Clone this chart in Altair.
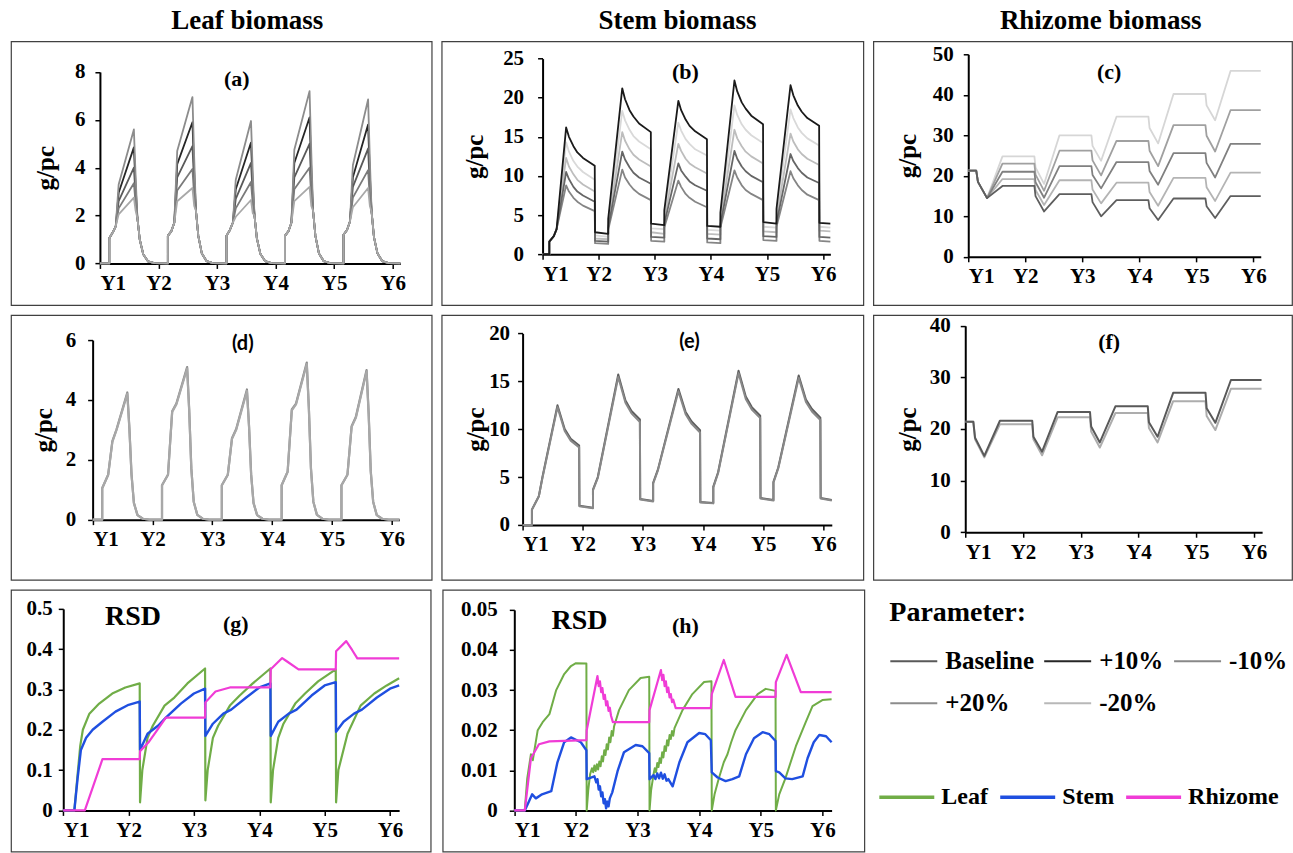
import altair as alt
import pandas as pd

SERIF = "Liberation Serif, Times New Roman, Tinos, DejaVu Serif, serif"
SANS = "Lato, Carlito, Liberation Sans, sans-serif"
YEARS = ["Y1", "Y2", "Y3", "Y4", "Y5", "Y6"]
YEAR_EXPR = "[" + ",".join("'%s'" % y for y in YEARS) + "][round(datum.value)]"
PARAMS = ["Baseline", "+10%", "-10%", "+20%", "-20%"]
PARAM_COLORS = ["#595959", "#262626", "#888888", "#8C8C8C", "#B8B8B8"]
ORGANS = ["Leaf", "Stem", "Rhizome"]
ORGAN_COLORS = ["#70AD47", "#1F4FE0", "#F03CD6"]

# ---------------- (a) leaf biomass, 5 parameter levels ----------------
A_OFF = [0.16, 0.16, 0.22, 0.27, 0.32, 0.58, 0.61, 0.64, 0.68, 0.74, 0.82, 0.93]
A_RISE = [1.05, 1.15, 1.15, 1.15, 1.2]
A_PRE1 = [1.3, 1.35, 1.4, 1.35, 1.4]
A_PRE2 = [1.55, 1.7, 1.7, 1.7, 1.75]
A_DEC = [[1.9, 1.0, 0.38, 0.09, 0.01], [2.2, 1.15, 0.42, 0.1, 0.01], [2.0, 1.05, 0.4, 0.1, 0.01],
         [2.2, 1.15, 0.42, 0.1, 0.01], [2.15, 1.1, 0.42, 0.1, 0.01]]
A_KINK = {"-10%": [3.3, 4.7, 3.5, 4.75, 4.1], "+10%": [2.95, 4.15, 3.1, 4.2, 3.6],
          "Baseline": [2.6, 3.6, 2.7, 3.6, 3.2], "+20%": [2.3, 3.05, 2.3, 3.1, 2.75],
          "-20%": [2.05, 2.6, 1.95, 2.6, 2.35]}
A_PEAK = {"-10%": [5.6, 6.95, 5.95, 7.2, 6.85], "+10%": [4.85, 5.9, 5.05, 6.1, 5.8],
          "Baseline": [4.0, 4.9, 4.2, 5.0, 4.8], "+20%": [3.35, 3.95, 3.4, 4.0, 3.9],
          "-20%": [2.75, 3.15, 2.65, 3.2, 3.15]}
A_D1 = {"-10%": [3.6, 4.4, 3.8, 4.6, 4.3], "+10%": [3.2, 3.8, 3.3, 3.9, 3.7],
        "Baseline": [2.8, 3.3, 2.9, 3.3, 3.2], "+20%": [2.5, 2.8, 2.5, 2.8, 2.7],
        "-20%": [2.2, 2.4, 2.1, 2.4, 2.4]}
A_COLORS = {"+10%": "#262626", "Baseline": "#595959", "-10%": "#8C8C8C", "+20%": "#7A7A7A", "-20%": "#A8A8A8"}

# ---------------- (b) stem biomass ----------------
B_START = [0.0, 0.0, 1.6, 2.3, 3.2]
B = {
    "-20%": dict(P=[14.3, 18.3, 16.8, 19.0, 18.5], Q1=[13.1, 17.1, 15.8, 17.8, 17.4], M1=[11.9, 15.9, 14.7, 16.6, 16.2],
                 Q2=[11.2, 15.1, 14.1, 15.9, 15.5], M2=[10.5, 14.4, 13.4, 15.2, 14.8],
                 E=[9.5, 13.4, 12.6, 14.2, 13.9], LS=[2.4, 3.3, 3.1, 3.5, 3.5], LE=[2.2, 3.2, 3.0, 3.4, 3.4], ST=[4.1, 5.0, 4.8, 5.2]),
    "+20%": dict(P=[12.3, 15.6, 14.1, 15.9, 15.4], Q1=[11.2, 14.5, 13.2, 14.8, 14.4], M1=[10.2, 13.4, 12.2, 13.8, 13.4],
                 Q2=[9.5, 12.7, 11.6, 13.1, 12.8], M2=[8.9, 12.1, 11.1, 12.5, 12.2],
                 E=[8.0, 11.2, 10.3, 11.6, 11.4], LS=[2.0, 2.8, 2.6, 2.9, 3.0], LE=[1.9, 2.6, 2.5, 2.8, 2.9], ST=[3.7, 4.4, 4.3, 4.6]),
    "-10%": dict(P=[8.8, 10.8, 9.4, 10.7, 10.6], Q1=[8.0, 9.8, 8.6, 9.8, 9.7], M1=[7.2, 8.9, 7.7, 8.8, 8.8],
                 Q2=[6.7, 8.3, 7.2, 8.2, 8.2], M2=[6.2, 7.7, 6.7, 7.7, 7.6],
                 E=[5.5, 6.9, 6.0, 6.9, 6.9], LS=[1.4, 1.7, 1.5, 1.8, 1.7], LE=[1.3, 1.6, 1.4, 1.7, 1.6], ST=[3.1, 3.4, 3.4, 3.5]),
    "Baseline": dict(P=[10.5, 13.1, 11.6, 13.2, 12.8], Q1=[9.6, 12.1, 10.7, 12.2, 11.9], M1=[8.6, 11.1, 9.9, 11.2, 11.0],
                     Q2=[8.0, 10.4, 9.3, 10.6, 10.4], M2=[7.5, 9.8, 8.8, 10.0, 9.8],
                     E=[6.7, 9.0, 8.1, 9.2, 9.1], LS=[1.7, 2.2, 2.0, 2.3, 2.2], LE=[1.6, 2.1, 1.9, 2.2, 2.1], ST=[3.4, 3.9, 3.8, 4.0]),
    "+10%": dict(P=[16.2, 21.2, 19.6, 22.2, 21.6], Q1=[15.0, 19.8, 18.4, 20.8, 20.3], M1=[13.8, 18.4, 17.2, 19.4, 19.0],
                 Q2=[13.0, 17.6, 16.4, 18.6, 18.2], M2=[12.3, 16.7, 15.7, 17.7, 17.4],
                 E=[11.3, 15.6, 14.7, 16.6, 16.4], LS=[2.8, 3.9, 3.6, 4.1, 4.0], LE=[2.6, 3.7, 3.5, 3.9, 3.9], ST=[4.5, 5.6, 5.3, 5.8]),
}
B_COLORS = {"-20%": "#D9D9D9", "+20%": "#BDBDBD", "-10%": "#858585", "Baseline": "#666666", "+10%": "#1A1A1A"}

# ---------------- (c) rhizome biomass ----------------
C_START = [21.3, 21.3, 18.5, 14.5]
C = {
    "-20%": dict(P=[24.8, 30.0, 34.6, 40.2, 45.9], D=[22.1, 27.4, 31.8, 37.4], MN=[18.0, 23.7, 28.0, 33.7]),
    "-10%": dict(P=[23.0, 26.2, 28.6, 32.5, 36.2], D=[20.3, 23.8, 26.2, 29.9], MN=[16.3, 20.1, 22.4, 26.0]),
    "+10%": dict(P=[19.2, 18.9, 18.3, 19.5, 20.8], D=[16.5, 16.6, 16.0, 17.2], MN=[12.8, 13.2, 12.6, 13.8]),
    "Baseline": dict(P=[21.0, 22.4, 23.4, 25.6, 27.9], D=[18.4, 20.2, 21.2, 23.2], MN=[14.6, 16.9, 17.8, 19.6]),
    "+20%": dict(P=[17.5, 15.5, 14.0, 14.4, 15.0], D=[15.0, 13.5, 12.0, 12.5], MN=[11.2, 10.0, 9.1, 9.6]),
}
C_COLORS = {"-20%": "#D6D6D6", "-10%": "#A0A0A0", "+10%": "#B4B4B4", "Baseline": "#808080", "+20%": "#5E5E5E"}

# ---------------- (d) leaf biomass, second parameter ----------------
D_OFF = [0.16, 0.16, 0.26, 0.33, 0.40, 0.58, 0.615, 0.65, 0.69, 0.75, 0.84, 0.95]
D_CYC = {
    "+10%": [[0, 1.05, 1.5, 2.62, 3.02, 4.25, 3.05, 1.52, 0.56, 0.15, 0.03, 0],
             [0, 1.15, 1.5, 3.62, 3.88, 5.1, 3.65, 1.72, 0.6, 0.16, 0.03, 0],
             [0, 1.15, 1.5, 2.72, 3.03, 4.35, 3.12, 1.52, 0.56, 0.15, 0.03, 0],
             [0, 1.15, 1.6, 3.68, 3.88, 5.25, 3.75, 1.72, 0.6, 0.16, 0.03, 0],
             [0, 1.15, 1.5, 3.12, 3.43, 5.0, 3.55, 1.62, 0.6, 0.15, 0.03, 0]],
    "Baseline": [[0, 1.05, 1.5, 2.6, 3.0, 4.2, 3.0, 1.5, 0.55, 0.15, 0.03, 0],
                 [0, 1.15, 1.5, 3.6, 3.85, 5.05, 3.6, 1.7, 0.6, 0.16, 0.03, 0],
                 [0, 1.15, 1.5, 2.7, 3.0, 4.3, 3.1, 1.5, 0.55, 0.15, 0.03, 0],
                 [0, 1.15, 1.6, 3.65, 3.85, 5.2, 3.7, 1.7, 0.6, 0.16, 0.03, 0],
                 [0, 1.15, 1.5, 3.1, 3.4, 4.95, 3.5, 1.6, 0.6, 0.15, 0.03, 0]],
}
D_COLORS = {"+10%": "#8A8A8A", "Baseline": "#A8A8A8"}

# ---------------- (e) stem biomass, second parameter ----------------
E_FIRST_T = [0, 0.155, 0.155, 0.27, 0.33, 0.58, 0.7, 0.8, 0.94, 0.945]
E_OFF = [0.17, 0.17, 0.25, 0.59, 0.71, 0.81, 0.95, 0.955]
E = {
    "Baseline": dict(first=[0, 0, 1.6, 3.0, 5.0, 12.5, 10.0, 9.0, 8.3, 2.0],
                     cyc=[[1.8, 3.7, 5.0, 15.7, 13.0, 11.9, 11.0, 2.7], [2.5, 4.4, 5.8, 14.2, 11.8, 10.8, 9.9, 2.4],
                          [2.3, 4.0, 5.5, 16.1, 13.4, 12.3, 11.4, 2.8], [2.6, 4.5, 6.0, 15.6, 13.1, 12.1, 11.2, 2.8]],
                     last=2.6),
    "-10%": dict(first=[0, 0, 1.6, 3.0, 4.9, 12.3, 9.8, 8.8, 8.1, 1.95],
                 cyc=[[1.75, 3.6, 4.9, 15.45, 12.75, 11.65, 10.75, 2.65], [2.45, 4.3, 5.7, 13.95, 11.55, 10.55, 9.65, 2.35],
                      [2.25, 3.9, 5.4, 15.85, 13.15, 12.05, 11.15, 2.75], [2.55, 4.4, 5.9, 15.35, 12.85, 11.85, 10.95, 2.75]],
                 last=2.55),
}
E_COLORS = {"Baseline": "#5E5E5E", "-10%": "#888888"}

# ---------------- (f) rhizome biomass, second parameter ----------------
F = {
    "-10%": dict(S=[21.4, 21.4, 18.0, 14.5], P=[20.9, 22.3, 23.1, 25.4, 27.8], D=[18.0, 19.5, 20.2, 22.5], MN=[14.9, 16.4, 17.4, 19.8]),
    "Baseline": dict(S=[21.4, 21.4, 18.3, 14.8], P=[21.6, 23.3, 24.4, 27.0, 29.5], D=[18.5, 20.5, 21.3, 24.0], MN=[15.6, 17.4, 18.5, 21.2]),
}
F_COLORS = {"-10%": "#ADADAD", "Baseline": "#595959"}

# ---------------- (g) RSD ----------------
GL_T = [0, 0.17, 0.22, 0.26, 0.3, 0.4, 0.55, 0.75, 0.95, 1.17,
        1.175, 1.21, 1.29, 1.37, 1.55, 1.7, 1.9, 2.17,
        2.175, 2.21, 2.29, 2.37, 2.55, 2.7, 2.9, 3.17,
        3.175, 3.21, 3.29, 3.37, 3.55, 3.7, 3.9, 4.17,
        4.175, 4.21, 4.35, 4.55, 4.76, 4.95, 5.14]
GL_V = [0, 0, 0.09, 0.16, 0.2, 0.24, 0.265, 0.29, 0.305, 0.315,
        0.02, 0.1, 0.18, 0.21, 0.26, 0.28, 0.315, 0.352,
        0.025, 0.1, 0.18, 0.21, 0.26, 0.285, 0.315, 0.352,
        0.02, 0.1, 0.18, 0.215, 0.265, 0.29, 0.32, 0.35,
        0.02, 0.1, 0.19, 0.26, 0.29, 0.31, 0.328]
GS_T = [0, 0.17, 0.22, 0.27, 0.35, 0.45, 0.6, 0.8, 1.0, 1.17,
        1.175, 1.29, 1.45, 1.57, 1.8, 2.0, 2.17,
        2.175, 2.29, 2.45, 2.57, 2.8, 3.0, 3.17,
        3.175, 3.29, 3.45, 3.57, 3.8, 4.0, 4.17,
        4.175, 4.29, 4.45, 4.57, 4.8, 5.0, 5.14]
GS_V = [0, 0, 0.08, 0.15, 0.18, 0.2, 0.22, 0.245, 0.262, 0.27,
        0.15, 0.19, 0.21, 0.23, 0.265, 0.29, 0.302,
        0.185, 0.215, 0.24, 0.25, 0.28, 0.305, 0.315,
        0.185, 0.22, 0.24, 0.25, 0.285, 0.31, 0.318,
        0.195, 0.22, 0.24, 0.25, 0.28, 0.302, 0.31]
GR_T = [0, 0.33, 0.6, 1.17, 1.175, 1.31, 1.44, 1.57, 2.17, 2.175, 2.33, 2.55, 3.17, 3.175, 3.35,
        3.42, 3.6, 4.17, 4.175, 4.33, 4.42, 4.5, 5.14]
GR_V = [0, 0, 0.127, 0.127, 0.147, 0.17, 0.2, 0.23, 0.23, 0.268, 0.295, 0.305, 0.305, 0.35, 0.378,
        0.37, 0.35, 0.35, 0.395, 0.42, 0.398, 0.377, 0.377]

# ---------------- (h) RSD ----------------
HL_T = [0, 0.17, 0.21, 0.27, 0.3, 0.38, 0.46, 0.57, 0.68, 0.81, 0.92, 1.0, 1.17,
        1.175, 1.2, 1.23, 1.26, 1.28, 1.3, 1.32, 1.34, 1.36, 1.38, 1.4, 1.42, 1.44, 1.46, 1.48, 1.5, 1.52,
        1.54, 1.56, 1.58, 1.6, 1.62, 1.7, 1.86, 2.05, 2.19,
        2.195, 2.22, 2.26, 2.28, 2.3, 2.32, 2.34, 2.36, 2.38, 2.4, 2.42, 2.44, 2.46, 2.48, 2.5, 2.52, 2.54,
        2.56, 2.58, 2.6, 2.73, 2.89, 3.08, 3.2,
        3.205, 3.25, 3.32, 3.4, 3.46, 3.52, 3.59, 3.76, 3.95, 4.08, 4.24,
        4.245, 4.3, 4.4, 4.57, 4.73, 4.84, 5.0, 5.15]
HL_V = [0, 0, 0.008, 0.014, 0.0125, 0.02, 0.022, 0.024, 0.03, 0.034, 0.036, 0.0367, 0.0366,
        0, 0.005, 0.009, 0.0105, 0.0095, 0.0112, 0.0098, 0.0115, 0.0102, 0.0122, 0.011, 0.0135, 0.0122,
        0.015, 0.0138, 0.0165, 0.0152, 0.0182, 0.017, 0.0198, 0.0186, 0.021, 0.025, 0.03, 0.033, 0.0333,
        0, 0.005, 0.009, 0.0105, 0.0095, 0.0118, 0.0108, 0.013, 0.0118, 0.0145, 0.0132, 0.016, 0.0148,
        0.0175, 0.0162, 0.0188, 0.0178, 0.0198, 0.0186, 0.0205, 0.025, 0.029, 0.032, 0.0322,
        0, 0.004, 0.008, 0.012, 0.014, 0.017, 0.02, 0.025, 0.029, 0.0303, 0.0298,
        0, 0.004, 0.008, 0.016, 0.022, 0.026, 0.0275, 0.0277]
HS_T = [0, 0.17, 0.23, 0.29, 0.35, 0.45, 0.6, 0.7, 0.81, 0.92, 1.08, 1.17,
        1.175, 1.3, 1.33, 1.35, 1.37, 1.39, 1.41, 1.43, 1.45, 1.47, 1.49, 1.51, 1.53, 1.55, 1.59, 1.68,
        1.78, 1.97, 2.08, 2.19,
        2.195, 2.26, 2.29, 2.32, 2.35, 2.38, 2.41, 2.44, 2.47, 2.5, 2.57, 2.68, 2.81, 3.0, 3.1, 3.19,
        3.205, 3.3, 3.43, 3.54, 3.65, 3.76, 3.89, 4.03, 4.14, 4.24,
        4.245, 4.3, 4.4, 4.51, 4.68, 4.76, 4.86, 4.95, 5.06, 5.15]
HS_V = [0, 0, 0.002, 0.004, 0.003, 0.004, 0.0048, 0.012, 0.017, 0.0182, 0.017, 0.015,
        0.0078, 0.0085, 0.007, 0.0078, 0.0052, 0.006, 0.0035, 0.0045, 0.0018, 0.0028, 0.0005, 0.0022,
        0.001, 0.003, 0.0045, 0.01, 0.0145, 0.0163, 0.016, 0.0143,
        0.0078, 0.0088, 0.0078, 0.0092, 0.008, 0.0094, 0.0079, 0.009, 0.0074, 0.0078, 0.006, 0.012,
        0.017, 0.0193, 0.019, 0.0175,
        0.0095, 0.0082, 0.0073, 0.0078, 0.0085, 0.014, 0.018, 0.0195, 0.019, 0.0173,
        0.0098, 0.0095, 0.008, 0.0078, 0.0085, 0.013, 0.017, 0.0188, 0.0185, 0.017]
HR_T = [0, 0.17, 0.27, 0.4, 0.57, 1.17,
        1.175, 1.35, 1.37, 1.39, 1.41, 1.43, 1.45, 1.47, 1.49, 1.51, 1.53, 1.55, 1.57, 1.6, 2.19,
        2.195, 2.38, 2.4, 2.42, 2.44, 2.46, 2.48, 2.5, 2.52, 2.54, 2.56, 2.58, 2.62, 3.19,
        3.205, 3.4, 3.59, 4.24,
        4.245, 4.42, 4.65, 5.15]
HR_V = [0, 0, 0.013, 0.0165, 0.0172, 0.0175,
        0.02, 0.0335, 0.031, 0.0322, 0.0295, 0.0305, 0.0278, 0.0288, 0.0262, 0.0272, 0.0248, 0.0256,
        0.0236, 0.022, 0.022,
        0.025, 0.035, 0.0325, 0.0338, 0.031, 0.0322, 0.0295, 0.0306, 0.0282, 0.029, 0.027, 0.0276,
        0.0255, 0.0255,
        0.029, 0.0375, 0.0283, 0.0283,
        0.032, 0.0388, 0.0295, 0.0295]


# ---------------- table builders ----------------
def frame(ts, vs):
    assert len(ts) == len(vs), (len(ts), len(vs))
    return pd.DataFrame({"t": ts, "v": vs, "i": list(range(len(ts)))})


def build_a(s):
    ts, vs = [0.0], [0.0]
    for k in range(5):
        ts += [k + o for o in A_OFF]
        vs += [0.0, A_RISE[k], A_PRE1[k], A_PRE2[k], A_KINK[s][k], A_PEAK[s][k], A_D1[s][k]] + A_DEC[k]
    return frame(ts + [5.13], vs + [0.0])


B_DECAY_OFF = [0.42, 0.47, 0.55, 0.62, 0.72, 0.93, 0.935]


def build_b(s):
    d = B[s]
    ts = [0, 0.12, 0.12, 0.2, 0.25] + B_DECAY_OFF
    vs = B_START[:]
    for k in range(5):
        if k > 0:
            ts += [k + 0.17, k + 0.17] + [k + o for o in B_DECAY_OFF]
            vs += [d["LE"][k - 1], d["ST"][k - 1]]
        vs += [d["P"][k], d["Q1"][k], d["M1"][k], d["Q2"][k], d["M2"][k], d["E"][k], d["LS"][k]]
    return frame(ts + [5.13], vs + [d["LE"][4]])


def build_c(start, d):
    ts = [0, 0.14, 0.17, 0.33, 0.6]
    vs = list(start) + [d["P"][0]]
    for k in range(1, 5):
        ts += [k + o for o in [0.16, 0.18, 0.33, 0.6]]
        vs += [d["P"][k - 1], d["D"][k - 1], d["MN"][k - 1], d["P"][k]]
    return frame(ts + [5.13], vs + [d["P"][4]])


def build_d(s):
    ts, vs = [0.0], [0.0]
    for k in range(5):
        ts += [k + o for o in D_OFF]
        vs += D_CYC[s][k]
    return frame(ts + [5.13], vs + [0.0])


def build_e(s):
    d = E[s]
    ts, vs = list(E_FIRST_T), list(d["first"])
    for k in range(1, 5):
        ts += [k + o for o in E_OFF]
        vs += d["cyc"][k - 1]
    return frame(ts + [5.14], vs + [d["last"]])


# ---------------- panel builder ----------------
def panel(lines, W, H, x0, x5, xend, y0, ytop, ymax, yvals, lp, texts, ytitle=None, title_x=0, header=None, hdx=0):
    ppy = (x5 - x0) / 5.0
    x_enc = alt.X("t:Q", scale=alt.Scale(domain=[0, xend], range=[x0, x0 + ppy * xend], nice=False, zero=False),
                  axis=alt.Axis(values=[0, 1, 2, 3, 4, 5], labelExpr=YEAR_EXPR, offset=y0 - H, title=None,
                                labelPadding=4))
    if ytitle:
        y_axis = alt.Axis(values=yvals, format="~f", offset=-x0, labelPadding=lp, title=ytitle,
                          titleX=title_x, titleY=(y0 + ytop) / 2, titleAngle=270, titleAlign="center",
                          titleBaseline="middle")
    else:
        y_axis = alt.Axis(values=yvals, format="~f", offset=-x0, labelPadding=lp, title=None)
    y_enc = alt.Y("v:Q", scale=alt.Scale(domain=[0, ymax], range=[y0, ytop], nice=False), axis=y_axis)
    layers = []
    for df, color, w in lines:
        layers.append(alt.Chart(df).mark_line(color=color, strokeWidth=w, strokeJoin="round").encode(
            x=x_enc, y=y_enc, order=alt.Order("i:Q")))
    for txt, px, py, font, size in texts:
        layers.append(alt.Chart(pd.DataFrame({"s": [txt]})).mark_text(
            font=font, fontSize=size, fontWeight="bold", color="black", align="center", baseline="middle").encode(
            text="s:N", x=alt.value(px), y=alt.value(py)))
    ch = alt.layer(*layers).properties(width=W, height=H)
    if header:
        ch = ch.properties(title=alt.TitleParams(header, font=SERIF, fontSize=27, fontWeight="bold", color="black",
                                                 anchor="middle", dx=hdx, offset=6))
    return ch


GP = "g/pc"
pa = panel([(build_a(s), A_COLORS[s], 1.8) for s in ["+10%", "Baseline", "-10%", "+20%", "-20%"]],
           421, 264, 89, 382, 5.13, 222.3, 30.7, 8, [0, 2, 4, 6, 8], 10,
           [("(a)", 226, 38, SERIF, 22)], GP, -54, "Leaf biomass", 26)
pb = panel([(build_b(s), B_COLORS[s], 1.8) for s in ["-20%", "+20%", "-10%", "Baseline", "+10%"]],
           422, 264, 101, 381.7, 5.13, 213, 17.3, 25, [0, 5, 10, 15, 20, 25], 14,
           [("(b)", 244, 31, SERIF, 22)], GP, -68, "Stem biomass", 25)
pc = panel([(build_c(C_START, C[s]), C_COLORS[s], 1.8) for s in ["-20%", "-10%", "+10%", "Baseline", "+20%"]],
           419, 264, 95, 380.3, 5.13, 215.7, 13, 50, [0, 10, 20, 30, 40, 50], 10,
           [("(c)", 236, 31, SERIF, 22)], GP, -60.7, "Rhizome biomass", 18)

pd_ = panel([(build_d(s), D_COLORS[s], 2.2) for s in ["+10%", "Baseline"]],
            421, 265, 81.7, 381, 5.13, 204.7, 25, 6, [0, 2, 4, 6], 12,
            [("(d)", 232, 29, SANS, 20)], GP, -48.7)
pe = panel([(build_e(s), E_COLORS[s], 2.0) for s in ["Baseline", "-10%"]],
           422, 265, 81, 382, 5.14, 210, 18.3, 20, [0, 5, 10, 15, 20], 8,
           [("(e)", 248, 27, SANS, 20)], GP, -46.7)
pf = panel([(build_c(F[s]["S"], F[s]), F_COLORS[s], 2.0) for s in ["-10%", "Baseline"]],
           419, 265, 92, 381, 5.14, 217.3, 10.7, 40, [0, 10, 20, 30, 40], 10,
           [("(f)", 236, 27, SERIF, 22)], GP, -57.7)

rsd_lines_g = [(frame(GL_T, GL_V), ORGAN_COLORS[0], 2.2), (frame(GS_T, GS_V), ORGAN_COLORS[1], 2.4),
               (frame(GR_T, GR_V), ORGAN_COLORS[2], 2.2)]
pg = panel(rsd_lines_g, 420, 262, 52.3, 379.3, 5.14, 220.7, 19, 0.5, [0, 0.1, 0.2, 0.3, 0.4, 0.5], 6,
           [("RSD", 122, 27, SERIF, 28), ("(g)", 225, 34, SERIF, 22)])
rsd_lines_h = [(frame(HL_T, HL_V), ORGAN_COLORS[0], 2.0), (frame(HS_T, HS_V), ORGAN_COLORS[1], 2.4),
               (frame(HR_T, HR_V), ORGAN_COLORS[2], 2.2)]
ph = panel(rsd_lines_h, 422, 262, 71.7, 380, 5.15, 220.7, 20, 0.05, [0, 0.01, 0.02, 0.03, 0.04, 0.05], 12,
           [("RSD", 137, 31, SERIF, 28), ("(h)", 243, 36, SERIF, 22)])

# ---------------- legend cell ----------------
leg_p = pd.DataFrame({"p": PARAMS, "x": list(range(5)), "y": list(range(5))})
leg_o = pd.DataFrame({"o": ORGANS, "x": list(range(3)), "y": list(range(3))})
l1 = alt.Chart(leg_p).mark_line(opacity=0).encode(
    x=alt.X("x:Q", axis=None), y=alt.Y("y:Q", axis=None),
    color=alt.Color("p:N", sort=PARAMS, scale=alt.Scale(domain=PARAMS, range=PARAM_COLORS),
                    legend=alt.Legend(title="Parameter:", orient="none", legendX=13, legendY=9,
                                      direction="horizontal", columns=3, gridAlign="none",
                                      symbolType="stroke", symbolSize=2209, symbolStrokeWidth=2,
                                      symbolOpacity=1, labelFont=SERIF, labelFontSize=25,
                                      labelFontWeight="bold", labelColor="black", titleFont=SERIF,
                                      titleFontSize=28, titleFontWeight="bold", titleColor="black",
                                      titlePadding=10, rowPadding=4, columnPadding=6, labelOffset=7,
                                      padding=0, labelLimit=0)))
l2 = alt.Chart(leg_o).mark_line(opacity=0).encode(
    x=alt.X("x:Q", axis=None), y=alt.Y("y:Q", axis=None),
    color=alt.Color("o:N", sort=ORGANS, scale=alt.Scale(domain=ORGANS, range=ORGAN_COLORS),
                    legend=alt.Legend(title=None, orient="none", legendX=1, legendY=178,
                                      direction="horizontal", columns=3, gridAlign="none",
                                      symbolType="stroke", symbolSize=3025, symbolStrokeWidth=3.5,
                                      symbolOpacity=1, labelFont=SERIF, labelFontSize=24,
                                      labelFontWeight="bold", labelColor="black", columnPadding=5,
                                      labelOffset=5, padding=0, labelLimit=0)))
leg = alt.layer(l1, l2).resolve_scale(color="independent").properties(
    width=415, height=262, view=alt.ViewBackground(stroke="transparent"))

row1 = alt.hconcat(pa, pb, pc, spacing=8)
row2 = alt.hconcat(pd_, pe, pf, spacing=8)
row3 = alt.hconcat(pg, ph, leg, spacing=10)

chart = alt.vconcat(row1, row2, row3, spacing=8).properties(
    padding={"left": 10, "top": 6, "right": 0, "bottom": 0}
).configure_view(stroke="#404040", strokeWidth=1.2).configure_axis(
    labelFont=SERIF, labelFontWeight="bold", labelFontSize=21, labelColor="black",
    titleFont=SERIF, titleFontWeight="bold", titleFontSize=25, titleColor="black",
    domainColor="black", domainWidth=2, tickColor="black", tickWidth=1.5, tickSize=5, grid=False
)

chart.save("out.html", embed_options={"renderer": "svg", "actions": False})
